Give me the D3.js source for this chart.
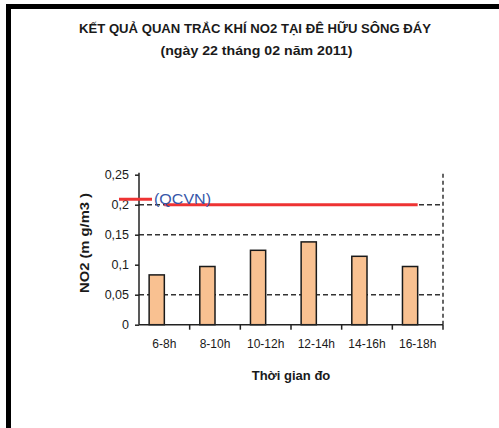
<!DOCTYPE html>
<html>
<head>
<meta charset="utf-8">
<script src="https://cdn.jsdelivr.net/npm/d3@7"></script>
<style>
  body { margin: 0; background: #fff; }
  text { font-family: "Liberation Sans", Arial, sans-serif; fill: #1a1a1a; }
</style>
</head>
<body>
<svg id="chart" width="499" height="428"></svg>
<script>
// dữ liệu
const categories = ["6-8h", "8-10h", "10-12h", "12-14h", "14-16h", "16-18h"];
const no2Values = [0.083, 0.097, 0.124, 0.138, 0.114, 0.097];
const qcvnValues = [0.2, 0.2, 0.2, 0.2, 0.2, 0.2];
const yTicks = [0, 0.05, 0.1, 0.15, 0.2, 0.25];
const gridValues = [0.05, 0.15, 0.2];

const svg = d3.select("#chart");

// khung viền đen
svg.append("path")
    .attr("d", "M8.5,430 L8.5,6.5 L505,6.5")
    .attr("fill", "none")
    .attr("stroke", "#000")
    .attr("stroke-width", 5);

const plotLeft = 139, plotRight = 443, plotTop = 174.7, plotBottom = 324.7;

const x = d3.scaleBand().domain(categories).range([plotLeft, plotRight]).padding(0);
const y = d3.scaleLinear().domain([0, 0.25]).range([plotBottom, plotTop]);
const bw = x.bandwidth();
const barX = c => x(c) + bw * 0.2;
const barW = bw * 0.3;

// tiêu đề
svg.append("text")
    .attr("x", 255).attr("y", 33)
    .attr("text-anchor", "middle")
    .attr("font-size", 13).attr("font-weight", "bold")
    .attr("textLength", 352).attr("lengthAdjust", "spacingAndGlyphs")
    .text("KẾT QUẢ QUAN TRẮC KHÍ NO2 TẠI ĐÊ HỮU SÔNG ĐÁY");
svg.append("text")
    .attr("x", 256.5).attr("y", 55)
    .attr("text-anchor", "middle")
    .attr("font-size", 12.5).attr("font-weight", "bold")
    .attr("textLength", 192).attr("lengthAdjust", "spacingAndGlyphs")
    .text("(ngày 22 tháng 02 năm 2011)");

// lưới nét đứt
svg.append("g")
    .selectAll("line")
    .data(gridValues)
    .join("line")
    .attr("x1", plotLeft).attr("x2", plotRight)
    .attr("y1", d => y(d)).attr("y2", d => y(d))
    .attr("stroke", "#333")
    .attr("stroke-width", 1.5)
    .attr("stroke-dasharray", "5,3");

// viền phải nét đứt
svg.append("line")
    .attr("x1", plotRight).attr("x2", plotRight)
    .attr("y1", plotTop - 1).attr("y2", plotBottom)
    .attr("stroke", "#333")
    .attr("stroke-width", 1.5)
    .attr("stroke-dasharray", "4,3");

// cột
svg.append("g")
    .selectAll("rect")
    .data(no2Values)
    .join("rect")
    .attr("x", (d, i) => barX(categories[i]))
    .attr("width", barW)
    .attr("y", d => y(d))
    .attr("height", d => y(0) - y(d))
    .attr("fill", "#f9c191")
    .attr("stroke", "#1a1a1a")
    .attr("stroke-width", 1.5);

// đường QCVN
const line = d3.line()
    .x((d, i) => barX(categories[i]) + barW)
    .y(d => y(d));
svg.append("path")
    .datum(qcvnValues)
    .attr("d", line)
    .attr("fill", "none")
    .attr("stroke", "#ee3333")
    .attr("stroke-width", 3);

// trục Y
const yAxis = d3.axisLeft(y)
    .tickValues(yTicks)
    .tickSize(4)
    .tickPadding(6)
    .tickFormat(d => String(d).replace(".", ","));
svg.append("g")
    .attr("transform", `translate(${plotLeft},0)`)
    .call(yAxis)
    .call(g => g.select(".domain").attr("d", `M0,${plotTop - 2}V${plotBottom}`).attr("stroke", "#222").attr("stroke-width", 1.5))
    .call(g => g.selectAll(".tick line").attr("stroke", "#222").attr("stroke-width", 1.5))
    .call(g => g.selectAll(".tick text").attr("font-size", 12.5).attr("fill", "#1a1a1a")
        .attr("font-family", "'Liberation Sans', Arial, sans-serif"));

// trục X
const xAxis = d3.axisBottom(x).tickSize(0).tickPadding(15);
svg.append("g")
    .attr("transform", `translate(0,${plotBottom})`)
    .call(xAxis)
    .call(g => g.select(".domain").attr("d", `M${plotLeft},0H${plotRight}`).attr("stroke", "#222").attr("stroke-width", 1.5))
    .call(g => g.selectAll(".tick text").attr("font-size", 12).attr("fill", "#1a1a1a")
        .attr("font-family", "'Liberation Sans', Arial, sans-serif"))
    .call(g => g.selectAll(".sep")
        .data(categories.slice(1).map(c => x(c)).concat([plotRight]))
        .join("line")
        .attr("class", "sep")
        .attr("x1", d => d).attr("x2", d => d)
        .attr("y1", 0).attr("y2", 5)
        .attr("stroke", "#222").attr("stroke-width", 1.5));

// chú thích QCVN
svg.append("line")
    .attr("x1", 119).attr("x2", 152)
    .attr("y1", y(0.2) - 5.5).attr("y2", y(0.2) - 5.5)
    .attr("stroke", "#ee3333")
    .attr("stroke-width", 3);
svg.append("text")
    .attr("x", 154).attr("y", y(0.2) - 0.5)
    .attr("font-size", 14)
    .attr("textLength", 57).attr("lengthAdjust", "spacingAndGlyphs")
    .style("fill", "#3656a8")
    .text("(QCVN)");

// nhãn trục
svg.append("text")
    .attr("transform", `translate(89,243) rotate(-90)`)
    .attr("text-anchor", "middle")
    .attr("font-size", 13).attr("font-weight", "bold")
    .attr("textLength", 100).attr("lengthAdjust", "spacingAndGlyphs")
    .text("NO2 (m g/m3 )");
svg.append("text")
    .attr("x", (plotLeft + plotRight) / 2).attr("y", 380)
    .attr("text-anchor", "middle")
    .attr("font-size", 13).attr("font-weight", "bold")
    .text("Thời gian đo");
</script>
</body>
</html>
